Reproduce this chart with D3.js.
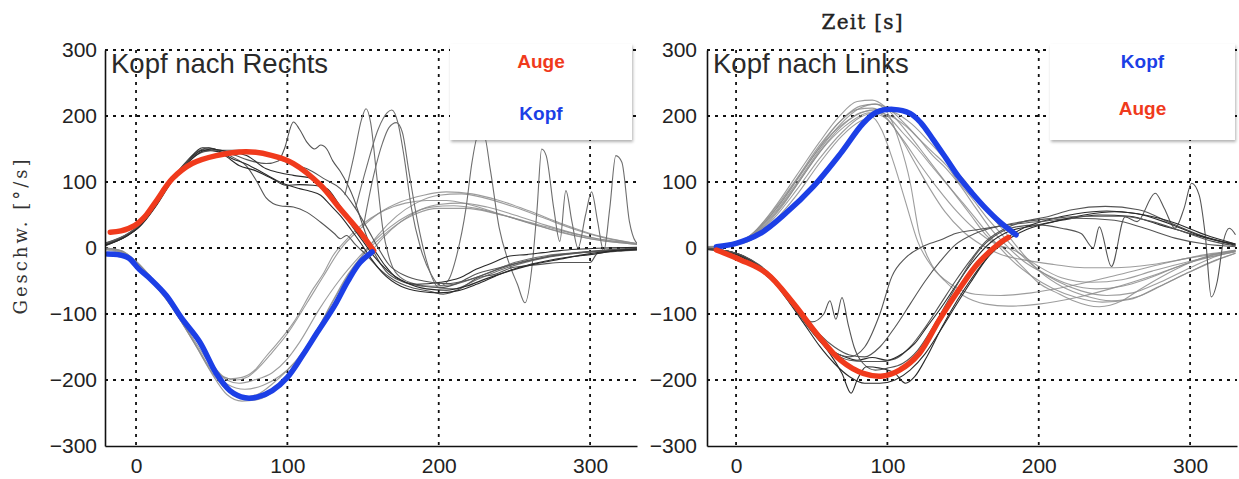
<!DOCTYPE html>
<html>
<head>
<meta charset="utf-8">
<script src="https://cdn.jsdelivr.net/npm/d3@7"></script>
<style>
  body { margin: 0; background: #fff; }
  svg { display: block; }
</style>
</head>
<body>
<svg id="chart" width="1239" height="479"></svg>
<script>
// ---- data (time in ms, velocity in deg/s) ----
const xTicks = [0, 100, 200, 300];
const yTicks = [-300, -200, -100, 0, 100, 200, 300];

// Kopf nach Rechts
const rechtsAuge = [[-17,24],[-10,26],[-1,34],[6,48],[13,70],[24,105],[37,128],[53,140],[73,146],[90,140],[104,128],[122,95],[135,59],[148,24],[157,-4]];
const rechtsKopf = [[-19,-9],[-12,-10],[-5,-15],[2,-32],[10,-48],[20,-72],[30,-106],[42,-142],[53,-190],[62,-216],[72,-227],[80,-226],[90,-216],[100,-196],[110,-163],[120,-127],[131,-88],[140,-50],[148,-22],[156,-6]];

const rechtsTrialsAuge = [
  [[-20,4],[-8,16],[2,32],[12,62],[22,98],[32,128],[42,148],[48,152],[57,145],[66,135],[73,124],[80,100],[86,76],[95,64],[104,62],[113,54],[122,39],[131,22],[135,14],[139,19],[145,5],[152,-10],[160,-30],[170,-48],[182,-60],[195,-66],[203,-70],[214,-62],[226,-45],[237,-40],[248,-30],[258,-27],[270,-24],[280,-22],[300,-22],[305,-8],[318,-5],[333,-3]],
  [[-20,6],[-6,20],[4,38],[14,68],[24,104],[34,132],[44,152],[52,150],[60,138],[68,125],[78,118],[90,105],[99,95],[108,96],[117,95],[126,90],[133,70],[139,49],[148,19],[157,-2],[164,-25],[172,-45],[185,-55],[201,-52],[214,-45],[225,-32],[236,-22],[247,-12],[258,-10],[269,-7],[280,-4],[291,-2],[310,0],[333,1]],
  [[-20,8],[-4,24],[6,44],[16,78],[26,110],[36,136],[46,150],[56,148],[66,140],[76,132],[86,128],[94,132],[98,150],[104,191],[108,180],[113,160],[118,150],[122,156],[126,150],[130,132],[135,116],[140,95],[144,74],[149,40],[153,14],[158,-10],[165,-35],[175,-50],[190,-58],[201,-60],[212,-54],[224,-40],[240,-30],[258,-20],[275,-12],[290,-8],[310,-4],[333,-2]],
  [[-20,5],[-6,18],[4,36],[14,66],[24,102],[34,130],[44,148],[54,146],[64,135],[72,128],[79,120],[87,110],[95,100],[108,90],[115,86],[122,80],[128,66],[135,49],[142,28],[148,9],[155,-15],[163,-38],[175,-58],[188,-66],[200,-68],[212,-65],[225,-55],[240,-40],[255,-28],[270,-20],[285,-14],[300,-10],[315,-5],[333,-2]],
  [[-20,7],[-5,22],[5,40],[15,72],[25,106],[35,132],[45,146],[56,148],[68,148],[80,143],[90,138],[102,128],[113,120],[125,104],[135,90],[145,60],[153,29],[160,0],[167,-25],[178,-42],[190,-50],[205,-54],[220,-48],[235,-36],[250,-24],[265,-16],[280,-10],[300,-5],[333,0]],
  [[-20,4],[-7,17],[3,34],[13,64],[23,100],[33,126],[43,146],[50,150],[60,146],[73,140],[86,120],[95,114],[104,110],[117,105],[124,92],[130,74],[137,52],[144,29],[150,10],[157,-12],[166,-34],[178,-52],[192,-62],[205,-64],[218,-58],[232,-46],[248,-34],[264,-24],[280,-17],[296,-10],[312,-5],[333,-1]]
];
const rechtsTrialsZucken = [
  [[138,80],[144,140],[149,195],[152,211],[155,190],[159,110],[163,30],[168,-20],[175,-45],[185,-55],[195,-58],[210,-55],[230,-40],[250,-22],[270,-12],[300,-6],[333,-2]],
  [[145,60],[152,120],[160,180],[166,205],[169,209],[173,190],[177,140],[182,60],[188,0],[195,-40],[201,-57],[206,-50],[212,-10],[218,60],[222,130],[226,170],[230,170],[234,120],[240,30],[246,-20],[252,-55],[257,-83],[262,-20],[265,60],[268,150],[271,140],[276,60],[280,10],[284,87],[288,40],[292,0],[297,50],[301,85],[305,40],[309,-5],[313,60],[317,140],[321,130],[326,40],[330,10],[333,5]],
  [[150,30],[157,110],[163,160],[167,182],[172,190],[176,175],[180,120],[186,40],[192,-20],[200,-60],[210,-62],[225,-48],[245,-30],[270,-15],[300,-6],[333,-2]]
];
const rechtsTrialsKopf = [
  [[-20,0],[-10,-4],[0,-20],[10,-45],[20,-72],[30,-108],[40,-140],[50,-175],[58,-196],[62,-198],[70,-196],[78,-186],[86,-164],[95,-140],[104,-113],[117,-62],[124,-38],[130,-12],[138,10],[146,29],[155,45],[165,58],[178,68],[192,72],[205,72],[220,66],[240,52],[260,38],[280,24],[300,14],[320,8],[333,5]],
  [[-20,-2],[-10,-6],[0,-22],[10,-48],[20,-76],[30,-110],[40,-145],[50,-180],[60,-200],[68,-205],[78,-200],[90,-189],[100,-168],[108,-143],[121,-93],[135,-47],[148,-12],[158,12],[168,32],[180,50],[195,62],[210,64],[225,60],[245,48],[265,34],[285,22],[305,12],[333,5]],
  [[-20,-3],[-10,-8],[0,-24],[10,-50],[20,-78],[30,-112],[40,-148],[50,-185],[60,-206],[72,-214],[84,-208],[95,-194],[104,-176],[113,-153],[126,-103],[139,-52],[153,-12],[163,15],[175,40],[188,58],[200,66],[215,68],[232,62],[250,50],[270,35],[290,22],[310,12],[333,6]],
  [[-20,-1],[-10,-5],[0,-22],[10,-48],[20,-76],[30,-112],[40,-150],[50,-190],[60,-222],[70,-232],[80,-230],[92,-215],[104,-182],[116,-140],[128,-90],[140,-42],[150,-10],[160,20],[172,48],[185,68],[200,80],[215,82],[230,76],[250,62],[270,45],[290,28],[310,15],[333,6]],
  [[-20,0],[-10,-4],[0,-20],[10,-44],[20,-70],[30,-104],[40,-140],[50,-175],[58,-195],[66,-200],[74,-195],[82,-179],[90,-158],[99,-133],[113,-83],[124,-42],[135,-2],[148,29],[160,52],[175,70],[190,80],[205,85],[222,82],[240,72],[260,56],[280,38],[300,22],[318,12],[333,6]],
  [[-20,-2],[-10,-7],[0,-24],[10,-50],[20,-78],[30,-112],[40,-150],[50,-188],[60,-215],[70,-226],[80,-222],[90,-206],[100,-185],[110,-158],[120,-122],[130,-80],[140,-40],[150,-10],[160,12],[172,35],[185,52],[200,60],[218,60],[238,52],[258,40],[278,28],[300,16],[333,6]]
];

// Kopf nach Links
const linksKopf = [[-13,2],[0,7],[16,22],[33,53],[51,93],[69,143],[84,189],[93,206],[104,210],[115,204],[122,190],[130,165],[139,135],[147,108],[156,83],[165,60],[174,40],[185,20]];
const linksAuge = [[-13,-3],[3,-18],[20,-38],[38,-84],[53,-129],[69,-170],[84,-190],[97,-194],[108,-185],[121,-160],[134,-110],[147,-64],[160,-23],[174,7],[180,16]];

const linksTrialsKopf = [
  [[-20,0],[-5,4],[10,20],[25,60],[40,110],[55,160],[68,199],[80,222],[90,224],[98,215],[106,195],[115,170],[125,140],[135,110],[145,80],[155,50],[165,20],[178,-3],[190,-30],[200,-53],[212,-68],[222,-79],[240,-89],[255,-80],[266,-64],[280,-45],[299,-23],[315,-10],[330,-3]],
  [[-20,2],[-5,5],[10,18],[25,52],[40,98],[55,148],[70,190],[82,212],[92,218],[100,212],[110,192],[121,165],[130,140],[139,120],[148,95],[158,62],[168,30],[178,5],[190,-20],[205,-40],[220,-55],[238,-62],[255,-58],[270,-48],[290,-30],[310,-14],[330,-4]],
  [[-20,1],[-5,3],[10,15],[25,45],[40,88],[55,135],[70,175],[82,198],[92,205],[102,200],[112,185],[121,165],[130,145],[139,125],[147,100],[156,75],[165,48],[175,22],[186,-5],[198,-30],[212,-50],[228,-65],[245,-72],[262,-68],[280,-52],[300,-30],[318,-12],[330,-5]],
  [[-20,0],[-5,4],[10,20],[25,58],[40,105],[55,155],[70,195],[82,215],[92,218],[100,205],[108,160],[115,100],[121,22],[128,-20],[138,-50],[150,-72],[165,-85],[180,-88],[200,-85],[225,-75],[250,-60],[275,-42],[300,-22],[330,-5]],
  [[-20,-1],[-5,2],[10,12],[25,40],[40,80],[55,128],[70,170],[82,192],[90,198],[96,180],[104,130],[112,70],[120,10],[130,-30],[142,-55],[158,-70],[175,-72],[195,-68],[220,-58],[250,-42],[280,-25],[310,-10],[330,-4]],
  [[-20,0],[-5,3],[10,16],[25,50],[40,95],[55,145],[70,185],[82,205],[95,210],[105,205],[116,188],[128,160],[140,130],[150,105],[160,75],[170,45],[180,18],[190,-10],[202,-38],[215,-58],[230,-72],[248,-80],[265,-74],[282,-56],[300,-36],[318,-18],[330,-8]],
  [[-20,1],[-5,4],[10,18],[25,55],[40,102],[55,152],[68,190],[80,210],[90,212],[100,200],[110,175],[120,150],[130,122],[140,95],[150,68],[160,40],[170,12],[182,-18],[195,-42],[210,-62],[225,-75],[242,-82],[260,-78],[278,-60],[298,-38],[315,-20],[330,-8]],
  [[-20,0],[0,6],[15,30],[30,70],[45,120],[60,165],[75,195],[88,208],[98,200],[108,170],[118,130],[128,90],[138,55],[150,25],[162,5],[175,-10],[190,-18],[210,-25],[230,-30],[250,-30],[275,-25],[300,-15],[330,-5]],
  [[-20,1],[0,5],[15,25],[30,62],[45,112],[60,158],[75,190],[88,205],[98,198],[110,165],[122,125],[134,88],[146,55],[158,28],[170,8],[185,-5],[200,-28],[215,-45],[235,-52],[255,-48],[275,-35],[300,-20],[330,-6]]
];
const linksTrialsAuge = [
  [[-20,-2],[-5,-6],[5,-14],[15,-28],[25,-50],[35,-78],[45,-110],[55,-140],[65,-160],[75,-170],[85,-172],[95,-172],[105,-168],[115,-150],[125,-120],[135,-85],[145,-50],[155,-18],[165,10],[178,30],[190,40],[205,47],[222,58],[244,63],[266,58],[288,37],[310,17],[330,5]],
  [[-20,-1],[-5,-5],[5,-12],[15,-26],[25,-48],[35,-76],[45,-108],[55,-138],[65,-158],[72,-165],[80,-170],[90,-166],[100,-170],[110,-160],[118,-145],[126,-120],[135,-92],[145,-58],[156,-22],[168,8],[180,25],[195,33],[215,42],[240,50],[260,48],[280,35],[300,22],[320,10],[330,6]],
  [[-20,0],[-8,-4],[0,-10],[10,-22],[20,-42],[30,-62],[40,-88],[50,-112],[58,-100],[62,-80],[66,-108],[70,-75],[74,-115],[78,-150],[84,-175],[92,-185],[100,-182],[110,-175],[120,-155],[130,-120],[140,-80],[150,-40],[160,-5],[172,20],[185,32],[200,35],[215,30],[228,22],[236,0],[240,32],[248,-28],[257,47],[265,40],[277,83],[283,60],[290,30],[296,60],[301,98],[306,80],[310,20],[314,-74],[318,-50],[322,10],[326,30],[330,20]],
  [[-20,-2],[-5,-6],[5,-15],[15,-30],[25,-52],[35,-82],[45,-115],[55,-148],[65,-175],[75,-195],[85,-205],[95,-205],[105,-200],[115,-185],[125,-160],[135,-125],[145,-88],[155,-52],[165,-18],[175,8],[188,28],[205,42],[225,52],[245,56],[265,52],[285,38],[305,20],[330,4]],
  [[-20,-1],[-5,-5],[5,-13],[15,-28],[25,-50],[35,-80],[45,-112],[55,-140],[65,-158],[75,-165],[85,-150],[95,-100],[103,-43],[112,-15],[123,2],[135,12],[145,22],[160,28],[180,35],[200,40],[225,45],[250,42],[270,30],[290,15],[310,6],[330,2]],
  [[-20,-2],[-5,-5],[5,-13],[15,-27],[25,-49],[35,-78],[45,-110],[55,-140],[62,-160],[70,-190],[76,-220],[80,-200],[86,-180],[95,-182],[105,-190],[112,-205],[118,-195],[126,-165],[136,-120],[146,-80],[156,-45],[166,-15],[178,10],[192,28],[210,40],[230,50],[250,55],[270,50],[290,38],[310,20],[330,6]],
  [[-20,-1],[-5,-5],[5,-12],[15,-25],[25,-45],[35,-72],[45,-102],[55,-130],[65,-150],[75,-162],[85,-165],[95,-150],[105,-120],[115,-85],[125,-50],[135,-20],[145,5],[158,22],[172,32],[190,40],[210,45],[230,48],[255,48],[275,40],[295,25],[315,10],[330,3]]
];

// ---- drawing ----
const svg = d3.select("#chart");
const red = "#f03a1c", blue = "#1c3fe6";

const panels = [
  { left: 105, right: 637, t0: -20.5, t1: 331, title: "Kopf nach Rechts",
    light: rechtsTrialsKopf, dark: rechtsTrialsAuge, mid: rechtsTrialsZucken,
    thick: [[rechtsAuge, red], [rechtsKopf, blue]],
    legend: { x: 450, w: 182, items: [["Auge", red], ["Kopf", blue]] } },
  { left: 707, right: 1237, t0: -19.2, t1: 331, title: "Kopf nach Links",
    light: linksTrialsKopf, dark: linksTrialsAuge, mid: [],
    thick: [[linksKopf, blue], [linksAuge, red]],
    legend: { x: 1050, w: 185, items: [["Kopf", blue], ["Auge", red]] } }
];

const plotTop = 50, plotBottom = 446;
const y = d3.scaleLinear().domain([-300, 300]).range([plotBottom, plotTop]);

const defs = svg.append("defs");
const shadow = defs.append("filter").attr("id", "shadow").attr("x", "-10%").attr("y", "-10%").attr("width", "130%").attr("height", "140%");
shadow.append("feDropShadow").attr("dx", 1).attr("dy", 2).attr("stdDeviation", 1.5).attr("flood-color", "#000").attr("flood-opacity", 0.3);

panels.forEach((p, i) => {
  const x = d3.scaleLinear().domain([p.t0, p.t1]).range([p.left, p.right]);
  const g = svg.append("g");

  defs.append("clipPath").attr("id", "clip" + i)
    .append("rect").attr("x", p.left).attr("y", plotTop).attr("width", p.right - p.left).attr("height", plotBottom - plotTop);

  // grid (matlab style dotted)
  const grid = g.append("g").attr("stroke", "#111").attr("stroke-width", 1.8).attr("stroke-dasharray", "3,5");
  grid.selectAll(".gx").data(xTicks).join("line")
    .attr("x1", d => x(d)).attr("x2", d => x(d)).attr("y1", plotTop).attr("y2", plotBottom);
  grid.selectAll(".gy").data(yTicks.filter(d => d > -300)).join("line")
    .attr("x1", p.left).attr("x2", p.right).attr("y1", d => y(d)).attr("y2", d => y(d));

  const line = d3.line().x(d => x(d[0])).y(d => y(d[1])).curve(d3.curveMonotoneX);
  const traces = g.append("g").attr("clip-path", `url(#clip${i})`).attr("fill", "none");

  traces.selectAll(".light").data(p.light).join("path")
    .attr("d", line).attr("stroke", "#8c8c8c").attr("stroke-width", 1.1).attr("stroke-opacity", 0.85);
  traces.selectAll(".mid").data(p.mid).join("path")
    .attr("d", line).attr("stroke", "#6e6e6e").attr("stroke-width", 1.1);
  traces.selectAll(".dark").data(p.dark).join("path")
    .attr("d", line).attr("stroke", (d, j) => j % 2 ? "#2a2a2a" : "#555").attr("stroke-width", 1.1);

  const smooth = d3.line().x(d => x(d[0])).y(d => y(d[1])).curve(d3.curveCatmullRom.alpha(0.5));
  traces.selectAll(".thick").data(p.thick).join("path")
    .attr("d", d => smooth(d[0])).attr("stroke", d => d[1]).attr("stroke-width", 5.5)
    .attr("stroke-linecap", "round").attr("stroke-linejoin", "round");

  // axes
  const xAxis = g.append("g").attr("transform", `translate(0,${plotBottom})`)
    .call(d3.axisBottom(x).tickValues(xTicks).tickSize(0).tickPadding(12));
  const yAxis = g.append("g").attr("transform", `translate(${p.left},0)`)
    .call(d3.axisLeft(y).tickValues(yTicks).tickSize(0).tickPadding(i === 0 ? 8 : 10));
  [xAxis, yAxis].forEach(a => {
    a.select(".domain").attr("stroke", "#111").attr("stroke-width", 1.6);
    a.selectAll("text").attr("font-family", "Liberation Sans, Arial, sans-serif")
      .attr("font-size", 21).attr("fill", "#222");
  });

  // panel title
  g.append("text").attr("x", p.left + 6).attr("y", 73)
    .attr("font-family", "Liberation Sans, Arial, sans-serif").attr("font-size", 27.5)
    .attr("fill", "#2a2a2a").text(p.title);

  // legend box
  const lg = g.append("g");
  lg.append("rect").attr("x", p.legend.x).attr("y", 44).attr("width", p.legend.w).attr("height", 96)
    .attr("fill", "#fff").attr("filter", "url(#shadow)");
  lg.selectAll("text").data(p.legend.items).join("text")
    .attr("x", p.legend.x + p.legend.w / 2).attr("y", (d, j) => 68 + j * 52 - (i === 1 ? j * 5 : 0))
    .attr("text-anchor", "middle").attr("font-family", "Liberation Sans, Arial, sans-serif")
    .attr("font-weight", "bold").attr("font-size", 19).attr("fill", d => d[1]).text(d => d[0]);
});

// shared labels
svg.append("text").attr("transform", "translate(27,237) rotate(-90)")
  .attr("text-anchor", "middle").attr("font-family", "DejaVu Serif, Liberation Serif, serif")
  .attr("font-size", 18).attr("fill", "#333").attr("textLength", 155).attr("lengthAdjust", "spacing")
  .text("Geschw. [°/s]");
svg.append("text").attr("x", 862).attr("y", 29)
  .attr("text-anchor", "middle").attr("font-family", "DejaVu Serif, Liberation Serif, serif")
  .attr("font-size", 20).attr("fill", "#222").attr("stroke", "#222").attr("stroke-width", 0.4)
  .attr("textLength", 81).attr("lengthAdjust", "spacing")
  .text("Zeit [s]");
</script>
</body>
</html>
